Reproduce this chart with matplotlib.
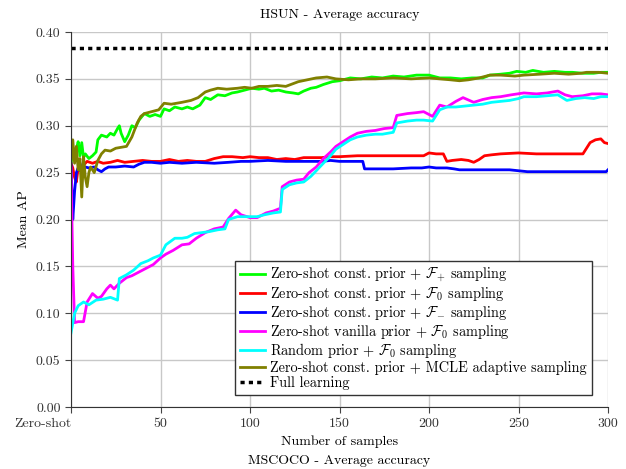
import matplotlib
matplotlib.use("Agg")
import matplotlib.pyplot as plt

plt.rcParams['font.family'] = 'serif'
plt.rcParams['font.serif'] = ['cmr10', 'DejaVu Serif']
plt.rcParams['mathtext.fontset'] = 'cm'
plt.rcParams['axes.unicode_minus'] = False
plt.rcParams['axes.formatter.use_mathtext'] = True

# ---------------- data ----------------
x_green = [0,1,2,3,4,5,6,7,8,10,12,14,15,17,20,22,24,26,27,28,30,32,34,36,38,41,44,47,50,52,55,58,62,65,68,72,75,78,82,86,90,93,97,101,105,108,112,116,120,124,127,130,134,137,141,146,150,156,162,168,174,180,186,193,200,206,212,218,224,230,234,240,245,249,254,258,264,270,276,280,286,292,296,300]
y_green = [0.26,0.27,0.265,0.275,0.283,0.268,0.282,0.266,0.27,0.265,0.268,0.272,0.285,0.29,0.288,0.292,0.29,0.297,0.30,0.292,0.283,0.29,0.30,0.298,0.306,0.313,0.31,0.312,0.31,0.318,0.316,0.32,0.318,0.32,0.318,0.322,0.33,0.328,0.333,0.332,0.335,0.336,0.338,0.34,0.339,0.34,0.337,0.338,0.336,0.335,0.334,0.337,0.34,0.341,0.344,0.347,0.348,0.351,0.35,0.352,0.351,0.353,0.352,0.354,0.354,0.351,0.351,0.35,0.351,0.351,0.354,0.355,0.356,0.358,0.357,0.359,0.357,0.358,0.357,0.357,0.356,0.356,0.357,0.357]

x_red = [0,1,2,3,4,5,7,9,12,15,18,22,26,30,35,40,45,50,55,60,65,70,75,80,85,90,96,100,105,110,115,120,125,130,135,140,145,150,160,170,180,190,197,200,204,208,210,213,218,222,225,228,231,235,240,250,260,271,280,286,288,290,293,296,298,300]
y_red = [0.26,0.255,0.245,0.24,0.255,0.252,0.258,0.262,0.26,0.262,0.26,0.261,0.263,0.261,0.262,0.263,0.262,0.262,0.264,0.262,0.263,0.262,0.262,0.265,0.267,0.267,0.266,0.267,0.266,0.266,0.264,0.265,0.264,0.266,0.266,0.266,0.267,0.267,0.268,0.268,0.268,0.268,0.268,0.271,0.27,0.27,0.262,0.263,0.264,0.263,0.261,0.264,0.268,0.269,0.27,0.271,0.27,0.27,0.27,0.27,0.276,0.282,0.285,0.286,0.282,0.281]

x_blue = [0,1,2,3,4,5,6,8,10,13,15,17,19,21,25,30,35,38,41,45,50,55,62,70,80,88,95,100,110,120,130,140,145,150,160,163,164,170,180,190,196,200,204,210,214,217,230,245,250,255,270,285,299,300]
y_blue = [0.26,0.2,0.23,0.25,0.255,0.26,0.254,0.256,0.255,0.256,0.253,0.251,0.254,0.256,0.256,0.257,0.256,0.259,0.261,0.261,0.26,0.261,0.26,0.261,0.26,0.261,0.262,0.262,0.263,0.262,0.262,0.262,0.263,0.262,0.262,0.262,0.254,0.254,0.254,0.255,0.255,0.256,0.255,0.255,0.254,0.253,0.253,0.253,0.252,0.251,0.251,0.251,0.251,0.253]

x_mag = [0,1,2,4,7,9,12,15,17,20,22,24,27,31,34,37,42,46,50,53,57,62,66,70,75,80,85,88,92,95,100,104,109,113,117,118,122,126,130,133,137,141,145,148,152,156,160,165,170,175,180,182,188,193,197,202,206,210,215,219,225,230,235,240,246,253,260,266,272,276,280,286,291,296,300]
y_mag = [0.255,0.15,0.09,0.091,0.091,0.112,0.121,0.116,0.118,0.126,0.13,0.126,0.132,0.138,0.14,0.143,0.148,0.152,0.159,0.163,0.167,0.173,0.174,0.18,0.186,0.19,0.192,0.201,0.21,0.205,0.202,0.202,0.207,0.209,0.212,0.235,0.24,0.242,0.243,0.25,0.256,0.265,0.272,0.278,0.283,0.288,0.292,0.294,0.295,0.297,0.298,0.311,0.313,0.314,0.315,0.31,0.322,0.32,0.326,0.33,0.325,0.328,0.33,0.331,0.333,0.335,0.334,0.335,0.337,0.333,0.331,0.332,0.334,0.334,0.333]

x_cyan = [0,2,4,7,10,14,18,22,26,27,31,35,39,43,46,50,53,58,62,65,69,73,77,82,86,88,93,99,104,108,113,117,118,122,126,130,134,137,141,145,148,152,156,160,165,170,174,180,182,188,193,197,202,206,210,215,220,225,230,235,240,245,250,253,260,266,272,277,282,287,292,296,300]
y_cyan = [0.079,0.1,0.108,0.112,0.109,0.114,0.115,0.117,0.114,0.137,0.141,0.146,0.153,0.156,0.159,0.162,0.173,0.18,0.18,0.181,0.185,0.186,0.187,0.189,0.19,0.2,0.203,0.203,0.203,0.205,0.207,0.208,0.232,0.237,0.239,0.24,0.246,0.252,0.26,0.268,0.275,0.28,0.285,0.288,0.29,0.291,0.291,0.293,0.303,0.305,0.306,0.306,0.305,0.317,0.32,0.32,0.321,0.322,0.323,0.325,0.326,0.327,0.329,0.331,0.331,0.332,0.333,0.327,0.329,0.33,0.329,0.331,0.331]

x_olive = [0,1,2,3,4,5,6,7,8,9,10,11,13,15,17,19,22,25,28,31,34,37,39,41,45,49,52,56,62,67,71,75,78,82,87,93,97,101,105,110,115,120,127,132,137,143,148,155,162,170,180,190,200,206,212,217,222,228,234,240,248,253,262,270,278,285,288,295,300]
y_olive = [0.26,0.285,0.26,0.278,0.253,0.265,0.224,0.267,0.245,0.235,0.25,0.256,0.25,0.263,0.27,0.274,0.273,0.276,0.277,0.278,0.288,0.303,0.31,0.313,0.315,0.317,0.324,0.323,0.325,0.327,0.33,0.336,0.338,0.34,0.339,0.34,0.341,0.34,0.342,0.342,0.343,0.342,0.347,0.349,0.351,0.352,0.35,0.349,0.35,0.35,0.351,0.35,0.351,0.35,0.349,0.348,0.349,0.351,0.354,0.354,0.353,0.354,0.355,0.356,0.355,0.356,0.357,0.357,0.356]

full_learning = 0.383

labels = [r"Zero-shot const. prior + $\mathcal{F}_{+}$ sampling",
          r"Zero-shot const. prior + $\mathcal{F}_{0}$ sampling",
          r"Zero-shot const. prior + $\mathcal{F}_{-}$ sampling",
          r"Zero-shot vanilla prior + $\mathcal{F}_{0}$ sampling",
          r"Random prior + $\mathcal{F}_{0}$ sampling",
          r"Zero-shot const. prior + MCLE adaptive sampling",
          "Full learning"]
x_ticks = [0, 50, 100, 150, 200, 250, 300]
x_ticklabels = ["Zero-shot", "50", "100", "150", "200", "250", "300"]
y_ticks = [0.00, 0.05, 0.10, 0.15, 0.20, 0.25, 0.30, 0.35, 0.40]

# ---------------- plot ----------------
fig = plt.figure(figsize=(6.26, 4.69), dpi=100)
ax = fig.add_axes([71/626, 1-407/469, (608-71)/626, (407-32)/469])

lw = 2.0
ax.plot(x_green, y_green, color='#00ff00', lw=lw, label=labels[0])
ax.plot(x_red, y_red, color='#ff0000', lw=lw, label=labels[1])
ax.plot(x_blue, y_blue, color='#0000ff', lw=lw, label=labels[2])
ax.plot(x_mag, y_mag, color='#ff00ff', lw=lw, label=labels[3])
ax.plot(x_cyan, y_cyan, color='#00ffff', lw=lw, label=labels[4])
ax.plot(x_olive, y_olive, color='#808000', lw=lw, label=labels[5])
ax.plot([0, 300], [full_learning, full_learning], color='black', lw=2.5,
        linestyle=(0, (1.2, 1.2)), label=labels[6])

ax.set_xlim(0, 300)
ax.set_ylim(0, 0.40)
ax.set_xticks(x_ticks)
ax.set_xticklabels(x_ticklabels)
ax.get_xticklabels()[0].set_horizontalalignment('right')
ax.set_yticks(y_ticks)
ax.set_yticklabels([f"{v:.2f}" for v in y_ticks])
ax.tick_params(labelsize=10, colors='#444444', labelcolor='#333333', length=4)
ax.grid(True, color='#c8c8c8', lw=1)
ax.set_axisbelow(True)
for s in ['top', 'right']:
    ax.spines[s].set_visible(False)
for s in ['left', 'bottom']:
    ax.spines[s].set_color('#333333')

ax.set_title("HSUN - Average accuracy", fontsize=10, pad=10)
ax.set_ylabel("Mean AP", fontsize=10)
ax.set_xlabel("Number of samples", fontsize=10, labelpad=4)

leg = ax.legend(loc='lower right', bbox_to_anchor=((592-71)/537, (407-395)/375),
                fontsize=10.3, frameon=True, fancybox=False,
                edgecolor='#333333', framealpha=1, borderaxespad=0.0,
                labelspacing=0.05, handlelength=1.7, handletextpad=0.4,
                borderpad=0.35)
leg.get_frame().set_linewidth(1.0)

fig.text((71+608)/2/626, 1-461/469, "MSCOCO - Average accuracy", ha='center',
         va='center', fontsize=10)

fig.savefig("out.png", dpi=100)
